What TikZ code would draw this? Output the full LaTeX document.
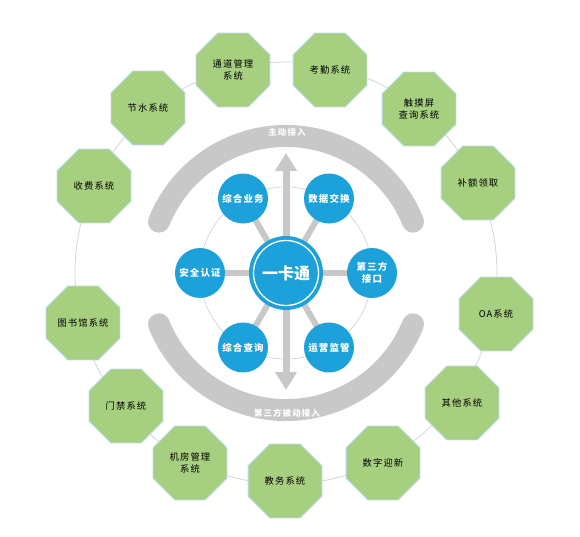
\documentclass[tikz,border=0pt]{standalone}
\usepackage{fontspec}
\usetikzlibrary{shapes.geometric,arrows.meta}
\newfontfamily\cjk[LetterSpace=12]{Noto Sans CJK SC}
\newfontfamily\cjkc{Noto Sans CJK SC}
\definecolor{octgreen}{HTML}{A7CF80}
\definecolor{octborder}{HTML}{BFDDF0}
\definecolor{bblue}{HTML}{1CA1DA}
\definecolor{agrey}{HTML}{C8C8C8}
\definecolor{lgrey}{HTML}{D4D4D4}
\begin{document}
\begin{tikzpicture}[x=1pt,y=1pt,
  oct/.style={regular polygon, regular polygon sides=8, minimum size=80pt, inner sep=0pt,
    fill=octgreen, draw=octborder, line width=0.9pt, text=black, align=center,
    font=\cjk\fontsize{9.3}{12.5}\selectfont},
  bub/.style={circle, minimum size=50pt, inner sep=0pt, fill=bblue, text=white, align=center,
    font=\cjk\bfseries\fontsize{9.5}{12.5}\selectfont},
  spoke/.style={line width=6pt, draw=agrey},
  bigarc/.style={line width=22pt, draw=agrey, line cap=round},
  arclabel/.style={text=white, font=\cjk\bfseries\fontsize{8.5}{10}\selectfont},
  thinring/.style={draw=lgrey, line width=0.8pt}
]
\useasboundingbox (0,0) rectangle (580,536);
\coordinate (C) at (286,263);

% outer ring
\draw[thinring] (C) circle[radius=211];

% outer octagons
\node[oct] (o1)  at (233,466) {通道管理\\系统};
\node[oct] (o2)  at (330,466) {考勤系统};
\node[oct] (o3)  at (419,427) {触摸屏\\查询系统};
\node[oct] (o4)  at (478,353) {补额领取};
\node[oct] (o5)  at (496,222) {OA系统};
\node[oct] (o6)  at (462,133) {其他系统};
\node[oct] (o7)  at (383,73)  {数字迎新};
\node[oct] (o8)  at (285,55)  {教务系统};
\node[oct] (o9)  at (190,73)  {机房管理\\系统};
\node[oct] (o10) at (126,130) {门禁系统};
\node[oct] (o11) at (83,213)  {图书馆系统};
\node[oct] (o12) at (94,350)  {收费系统};
\node[oct] (o13) at (148,428) {节水系统};

% big arcs
\draw[bigarc] ([shift={(22:137)}]C) arc[start angle=22, end angle=158, radius=137];
\draw[bigarc] ([shift={(202:137)}]C) arc[start angle=202, end angle=338, radius=137];
\node[arclabel] (l1) at (287,404) {主动接入};
\node[arclabel] (l2) at (287,123) {第三方被动接入};

% inner ring
\draw[thinring, line width=0.7pt] (C) circle[radius=86];

% inner bubbles positions
\coordinate (p1) at ([shift={(120:86)}]C);
\coordinate (p2) at ([shift={(60:86)}]C);
\coordinate (p3) at ([shift={(180:86)}]C);
\coordinate (p4) at ([shift={(0:86)}]C);
\coordinate (p5) at ([shift={(240:86)}]C);
\coordinate (p6) at ([shift={(300:86)}]C);

% spokes
\foreach \p in {p1,p2,p3,p4,p5,p6} \draw[spoke] (C) -- (\p);

% vertical double arrow
\coordinate (atop) at (286,383);
\coordinate (abot) at (286,146);
\draw[line width=7pt, draw=agrey,
  {Triangle[width=21pt,length=18pt]}-{Triangle[width=21pt,length=18pt]}, color=agrey] (abot) -- (atop);

% center
\node[circle, minimum size=74pt, inner sep=0pt, fill=bblue] (hub) at (C) {};
\draw[white, line width=1.3pt] (C) circle[radius=32.5];
\node[text=white, font=\cjkc\bfseries\fontsize{16}{18}\selectfont] (hubt) at (C) {一卡通};

% bubbles
\node[bub] (b1) at (p1) {综合业务};
\node[bub] (b2) at (p2) {数据交换};
\node[bub] (b3) at (p3) {安全认证};
\node[bub] (b4) at (p4) {第三方\\接口};
\node[bub] (b5) at (p5) {综合查询};
\node[bub] (b6) at (p6) {运营监管};
\end{tikzpicture}
\end{document}
